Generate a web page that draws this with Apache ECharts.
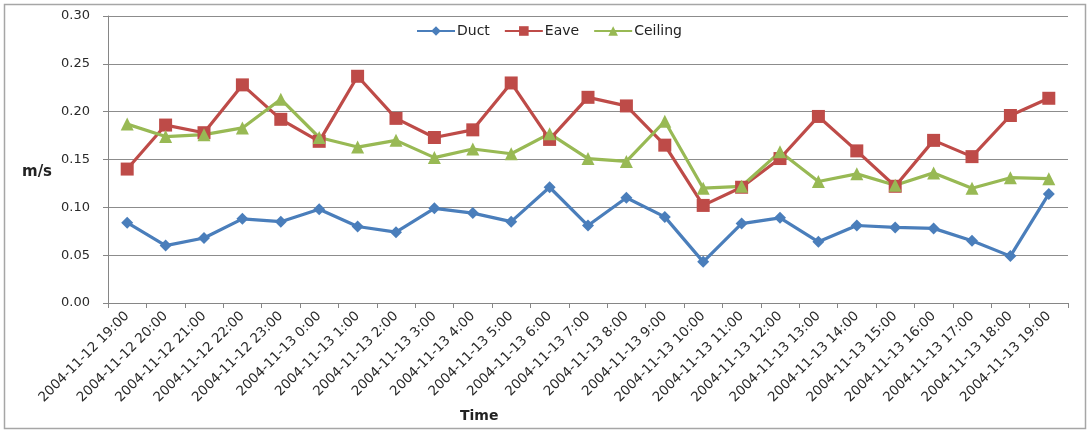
<!DOCTYPE html>
<html>
<head>
<meta charset="utf-8">
<script src="https://cdn.jsdelivr.net/npm/echarts@6/dist/echarts.min.js"></script>
<style>
  html, body { margin: 0; padding: 0; background: #fff; }
  #chart { width: 1090px; height: 432px; }
</style>
</head>
<body>
<div id="chart"></div>
<script>
// Hourly timestamps, 2004-11-12 19:00 through 2004-11-13 19:00
const times = [
  '2004-11-12 19:00', '2004-11-12 20:00', '2004-11-12 21:00', '2004-11-12 22:00',
  '2004-11-12 23:00', '2004-11-13 0:00', '2004-11-13 1:00', '2004-11-13 2:00',
  '2004-11-13 3:00', '2004-11-13 4:00', '2004-11-13 5:00', '2004-11-13 6:00',
  '2004-11-13 7:00', '2004-11-13 8:00', '2004-11-13 9:00', '2004-11-13 10:00',
  '2004-11-13 11:00', '2004-11-13 12:00', '2004-11-13 13:00', '2004-11-13 14:00',
  '2004-11-13 15:00', '2004-11-13 16:00', '2004-11-13 17:00', '2004-11-13 18:00',
  '2004-11-13 19:00'
];

// Air speed (m/s) at each location
const duct = [
  0.084, 0.060, 0.068, 0.088, 0.085, 0.098, 0.080, 0.074, 0.099, 0.094,
  0.085, 0.121, 0.081, 0.110, 0.090, 0.043, 0.083, 0.089, 0.064, 0.081,
  0.079, 0.078, 0.065, 0.049, 0.114
];
const eave = [
  0.140, 0.186, 0.178, 0.228, 0.192, 0.169, 0.237, 0.193, 0.173, 0.181,
  0.230, 0.171, 0.215, 0.206, 0.165, 0.102, 0.121, 0.151, 0.195, 0.159,
  0.122, 0.170, 0.153, 0.196, 0.214
];
const ceiling = [
  0.187, 0.174, 0.176, 0.183, 0.213, 0.173, 0.163, 0.170, 0.152, 0.161,
  0.156, 0.177, 0.151, 0.148, 0.190, 0.120, 0.122, 0.158, 0.127, 0.135,
  0.123, 0.136, 0.120, 0.131, 0.130
];

const FONT = 'DejaVu Sans';
const chart = echarts.init(document.getElementById('chart'), null, { renderer: 'canvas' });

function lineSeries(name, data, color, symbol, size) {
  return {
    name: name,
    type: 'line',
    data: data,
    symbol: symbol,
    symbolSize: size,
    showAllSymbol: true,
    lineStyle: { color: color, width: 3.2 },
    itemStyle: { color: color },
    emphasis: { disabled: true }
  };
}

chart.setOption({
  animation: false,
  backgroundColor: '#ffffff',
  textStyle: { fontFamily: FONT },
  graphic: [{
    type: 'rect',
    shape: { x: 4.5, y: 4.5, width: 1081, height: 424 },
    style: { fill: 'none', stroke: '#a6a6a6', lineWidth: 1.5 },
    silent: true
  }],
  title: [
    { text: 'm/s', left: 17, top: 160,
      textStyle: { fontFamily: FONT, fontSize: 15, fontWeight: 'bold', color: '#222' } },
    { text: 'Time', left: 455, top: 404,
      textStyle: { fontFamily: FONT, fontSize: 14, fontWeight: 'bold', color: '#222' } }
  ],
  legend: {
    left: 411, top: 19,
    itemWidth: 38, itemHeight: 12, itemGap: 14,
    textStyle: { fontFamily: FONT, fontSize: 14, color: '#222', padding: [0, 0, 0, -3] },
    data: ['Duct', 'Eave', 'Ceiling']
  },
  grid: { left: 108, right: 22, top: 16, bottom: 129 },
  xAxis: {
    type: 'category',
    data: times,
    boundaryGap: true,
    axisLine: { lineStyle: { color: '#868686', width: 1 } },
    axisTick: { show: true, length: 5, lineStyle: { color: '#868686' } },
    axisLabel: {
      interval: 0, rotate: 45, margin: 11,
      fontFamily: FONT, fontSize: 13.5, color: '#2a2a2a'
    },
    splitLine: { show: false }
  },
  yAxis: {
    type: 'value',
    min: 0, max: 0.30, interval: 0.05,
    axisLine: { show: true, lineStyle: { color: '#868686', width: 1 } },
    axisTick: { show: true, length: 5, lineStyle: { color: '#868686' } },
    axisLabel: {
      margin: 18, fontFamily: FONT, fontSize: 13, color: '#2a2a2a',
      formatter: v => v.toFixed(2)
    },
    splitLine: { lineStyle: { color: '#8c8c8c', width: 1 } }
  },
  series: [
    lineSeries('Duct', duct, '#4a7ebb', 'diamond', 12),
    lineSeries('Eave', eave, '#be4b48', 'rect', 13),
    lineSeries('Ceiling', ceiling, '#98b954', 'triangle', 13)
  ]
});
</script>
</body>
</html>
